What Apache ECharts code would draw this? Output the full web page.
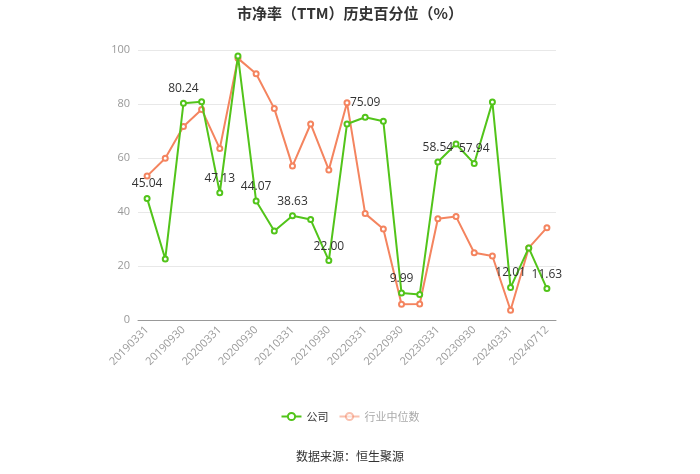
<!DOCTYPE html>
<html><head><meta charset="utf-8">
<script src="https://cdn.jsdelivr.net/npm/echarts@6/dist/echarts.min.js"></script>
<style>html,body{margin:0;padding:0;background:#fff}#c{width:700px;height:474px}</style>
</head><body><div id="c"></div>
<script>
const categories = ['20190331','20190630','20190930','20191231','20200331','20200630','20200930','20201231','20210331','20210630','20210930','20211231','20220331','20220630','20220930','20221231','20230331','20230630','20230930','20231231','20240331','20240630','20240712'];
const companyValues = [45.04,22.6,80.24,80.8,47.13,97.8,44.07,33.0,38.63,37.2,22.00,72.6,75.09,73.6,9.99,9.4,58.54,65.2,57.94,80.7,12.01,26.7,11.63];
const industryValues = [53.3,59.9,71.7,78.0,63.5,96.9,91.2,78.3,57.0,72.6,55.6,80.5,39.4,33.7,5.8,5.9,37.5,38.3,24.9,23.7,3.6,26.7,34.2];
const yTicks = [0,20,40,60,80,100];

const chart = echarts.init(document.getElementById('c'));
chart.setOption({
  animation: false,
  title: {
    text: '市净率（TTM）历史百分位（%）',
    left: 'center', top: 1,
    textStyle: {fontSize: 15, fontWeight: 'bold', color: '#333', fontFamily: 'Noto Sans CJK SC'}
  },
  legend: {
    bottom: 47, left: 'center', itemWidth: 20, itemHeight: 9, itemGap: 10,
    textStyle: {color: '#333', fontSize: 11, fontFamily: 'Noto Sans CJK SC'},
    data: [
      {name: '公司'},
      {name: '行业中位数', textStyle: {color: '#aaa'}, itemStyle: {opacity: 0.5}, lineStyle: {opacity: 0.5}}
    ]
  },
  graphic: [{
    type: 'text', left: 'center', top: 450,
    style: {text: '数据来源：恒生聚源', fill: '#333', fontSize: 12, fontFamily: 'Noto Sans CJK SC'}
  }],
  grid: {left: 138, right: 144, top: 50, bottom: 154},
  xAxis: {
    type: 'category', data: categories, boundaryGap: true,
    axisLine: {lineStyle: {color: '#999'}},
    axisTick: {alignWithLabel: true, interval: 1, lineStyle: {color: '#999'}},
    axisLabel: {interval: 1, rotate: 45, color: '#999', fontSize: 11, fontFamily: 'Open Sans'}
  },
  yAxis: {
    type: 'value', min: yTicks[0], max: yTicks[yTicks.length-1], interval: 20,
    axisLine: {show: false}, axisTick: {show: false},
    splitLine: {lineStyle: {color: '#e8e8e8'}},
    axisLabel: {color: '#999', fontSize: 11, fontFamily: 'Open Sans'}
  },
  series: [{
    name: '公司', type: 'line', data: companyValues,
    symbol: 'emptyCircle', symbolSize: 5,
    itemStyle: {color: '#52c41a'}, lineStyle: {width: 2, color: '#52c41a'},
    label: {
      show: true, position: 'top', color: '#333', fontSize: 12, fontFamily: 'Open Sans',
      formatter: p => p.dataIndex % 2 === 0 ? p.value.toFixed(2) : ''
    },
    z: 3
  },{
    name: '行业中位数', type: 'line', data: industryValues,
    symbol: 'emptyCircle', symbolSize: 5,
    itemStyle: {color: '#f4845f'}, lineStyle: {width: 2, color: '#f4845f'},
    z: 2
  }]
});
</script></body></html>
